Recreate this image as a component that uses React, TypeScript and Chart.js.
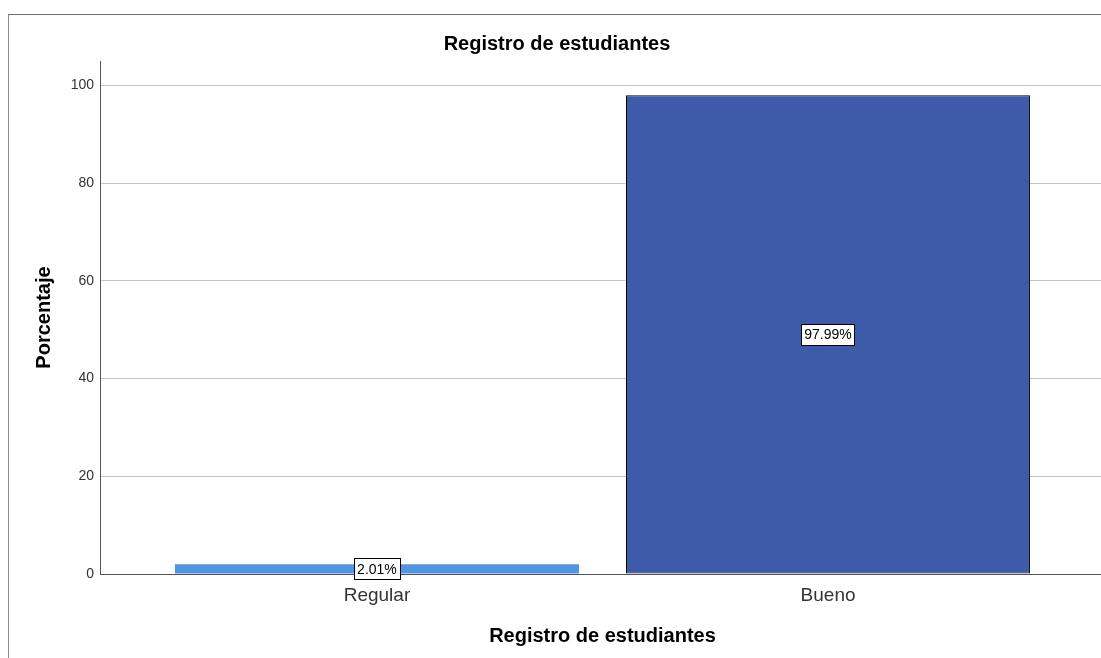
import React, { useEffect, useRef } from "react";
import { Chart, registerables } from "chart.js";

Chart.register(...registerables);

const categories = ["Regular", "Bueno"];
const percentages = [2.01, 97.99];
const barColors = ["#5394e3", "#3e5ba9"];
const barBorders = ["#5394e3", "#000000"];
const yTicks = [0, 20, 40, 60, 80, 100];
const chartTitle = "Registro de estudiantes";
const xTitle = "Registro de estudiantes";
const yTitle = "Porcentaje";

const FONT = "Arial, 'Liberation Sans', sans-serif";

const labelPlugin = {
  id: "boxLabels",
  afterDatasetsDraw(chart: any) {
    const ctx = chart.ctx;
    const meta = chart.getDatasetMeta(0);
    ctx.save();
    ctx.font = `14px ${FONT}`;
    ctx.textAlign = "center";
    ctx.textBaseline = "middle";
    meta.data.forEach((bar: any, i: number) => {
      const text = percentages[i].toFixed(2) + "%";
      const cx = bar.x;
      const cy = (bar.y + bar.base) / 2;
      const w = ctx.measureText(text).width + 6;
      const h = 21;
      const x0 = Math.round(cx - w / 2) + 0.5;
      const y0 = Math.round(cy - h / 2) + 0.5;
      ctx.fillStyle = "#ffffff";
      ctx.fillRect(x0, y0, Math.round(w), h);
      ctx.strokeStyle = "#000000";
      ctx.lineWidth = 1;
      ctx.strokeRect(x0, y0, Math.round(w), h);
      ctx.fillStyle = "#000000";
      ctx.fillText(text, cx, cy + 1);
    });
    ctx.restore();
  },
};

export default function App() {
  const ref = useRef<HTMLCanvasElement | null>(null);

  useEffect(() => {
    if (!ref.current) return;
    const chart = new Chart(ref.current, {
      type: "bar",
      data: {
        datasets: [
          {
            data: percentages.map((v, i) => ({ x: i, y: v })),
            backgroundColor: barColors,
            borderColor: barBorders,
            borderWidth: [0, 1],
            borderSkipped: false,
            barPercentage: 404 / 451,
            categoryPercentage: 1,
          },
        ],
      },
      options: {
        animation: false,
        responsive: false,
        devicePixelRatio: 1,
        layout: { padding: { left: 0, right: 11, top: 0, bottom: 0 } },
        plugins: {
          legend: { display: false },
          tooltip: { enabled: false },
          title: {
            display: true,
            text: chartTitle,
            color: "#000",
            font: { family: FONT, size: 20, weight: "bold" },
            padding: { top: 17, bottom: 5 },
          },
        },
        scales: {
          x: {
            type: "linear",
            offset: false,
            min: -0.614,
            max: 1.614,
            afterBuildTicks: (scale: any) => {
              scale.ticks = categories.map((_, i) => ({ value: i }));
            },
            afterFit: (scale: any) => {
              scale.height = 84;
            },
            grid: { display: false, drawTicks: false, offset: false },
            border: { display: true, color: "#555555", width: 1 },
            ticks: {
              padding: 10,
              color: "#333333",
              font: { family: FONT, size: 19 },
              callback: (v: any) => categories[v] ?? "",
            },
            title: {
              display: true,
              text: xTitle,
              color: "#000",
              font: { family: FONT, size: 20, weight: "bold" },
              padding: { top: 0, bottom: 10 },
            },
          },
          y: {
            min: 0,
            max: 105,
            afterBuildTicks: (scale: any) => {
              scale.ticks = yTicks.map((v) => ({ value: v }));
            },
            afterFit: (scale: any) => {
              scale.width = 91;
            },
            grid: { color: "#c4c4c4", lineWidth: 1, drawTicks: false },
            border: { display: true, color: "#555555", width: 1 },
            ticks: {
              padding: 6,
              color: "#333333",
              font: { family: FONT, size: 14 },
            },
            title: {
              display: true,
              text: yTitle,
              color: "#000",
              font: { family: FONT, size: 20, weight: "bold" },
              padding: { top: 23, bottom: 0 },
            },
          },
        },
      },
      plugins: [labelPlugin],
    } as any);
    return () => chart.destroy();
  }, []);

  return (
    <div
      style={{
        position: "fixed",
        left: 0,
        top: 0,
        width: 1101,
        height: 658,
        overflow: "hidden",
        background: "#ffffff",
      }}
    >
      <div
        style={{
          position: "absolute",
          left: 8,
          top: 14,
          width: 1130,
          height: 700,
          borderTop: "1px solid #6e6e6e",
          borderLeft: "1px solid #8a8a8a",
        }}
      >
        <canvas ref={ref} width={1107} height={643} style={{ display: "block" }} />
      </div>
    </div>
  );
}
